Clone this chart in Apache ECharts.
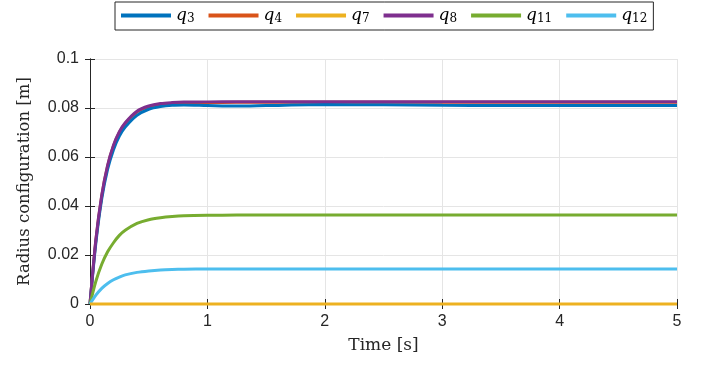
<!DOCTYPE html>
<html>
<head>
<meta charset="utf-8">
<script src="https://cdn.jsdelivr.net/npm/echarts@6/dist/echarts.min.js"></script>
<style>
  html, body { margin: 0; padding: 0; background: #fff; }
  #main { width: 707px; height: 369px; }
</style>
</head>
<body>
<div id="main"></div>
<script>
// time samples [s]
var timeData = [0, 0.05, 0.1, 0.15, 0.2, 0.25, 0.3, 0.4, 0.5, 0.6, 0.7, 0.8, 1.0, 1.25, 1.5, 2, 2.5, 3, 3.5, 4, 4.5, 5];

// radius configuration [m]
var q3 = [0, 0.0250, 0.0430, 0.0550, 0.0630, 0.0685, 0.0722, 0.0770, 0.0795, 0.0806, 0.0811, 0.0812, 0.0810, 0.0808, 0.0810, 0.0814, 0.0813, 0.0811, 0.0810, 0.0810, 0.0810, 0.0810];
var q4 = [0, 0.0260, 0.0441, 0.0563, 0.0645, 0.0700, 0.0737, 0.0784, 0.0805, 0.0815, 0.0819, 0.0821, 0.0822, 0.0823, 0.0823, 0.0823, 0.0823, 0.0823, 0.0823, 0.0823, 0.0823, 0.0823];
var q7 = [0, 0, 0, 0, 0, 0, 0, 0, 0, 0, 0, 0, 0, 0, 0, 0, 0, 0, 0, 0, 0, 0];
var q8 = [0, 0.0263, 0.0444, 0.0566, 0.0648, 0.0703, 0.0740, 0.0787, 0.0808, 0.0818, 0.0822, 0.0824, 0.0825, 0.0826, 0.0826, 0.0826, 0.0826, 0.0826, 0.0826, 0.0826, 0.0826, 0.0826];
var q11 = [0, 0.0093, 0.0162, 0.0213, 0.0250, 0.0280, 0.0301, 0.0329, 0.0344, 0.0352, 0.0357, 0.0360, 0.0362, 0.0363, 0.0363, 0.0363, 0.0363, 0.0363, 0.0363, 0.0363, 0.0363, 0.0363];
var q12 = [0, 0.0036, 0.0064, 0.0084, 0.0099, 0.0110, 0.0119, 0.0129, 0.0135, 0.0139, 0.0141, 0.0142, 0.0143, 0.0143, 0.0143, 0.0143, 0.0143, 0.0143, 0.0143, 0.0143, 0.0143, 0.0143];

var names = ['q3', 'q4', 'q7', 'q8', 'q11', 'q12'];
var colors = ['#0072BD', '#D95319', '#EDB120', '#7E2F8E', '#77AC30', '#4DBEEE'];
var values = [q3, q4, q7, q8, q11, q12];
// draw order: q4 under q8, q7 on top of the bottom axis
var drawOrder = [1, 0, 3, 4, 5, 2];

var chart = echarts.init(document.getElementById('main'));

function pairs(arr) {
    var out = [];
    for (var i = 0; i < timeData.length; i++) {
        out.push([timeData[i], arr[i]]);
    }
    return out;
}

var series = [];
drawOrder.forEach(function (k) {
    series.push({
        name: names[k],
        type: 'line',
        data: pairs(values[k]),
        smooth: 0.3,
        showSymbol: false,
        symbol: 'none',
        clip: false,
        lineStyle: { width: 3, color: colors[k] },
        itemStyle: { color: colors[k] },
        z: 2 + drawOrder.indexOf(k)
    });
});

var axisLine = { show: true, lineStyle: { color: '#262626', width: 1 } };
var tickStyle = { show: true, inside: true, length: 5, lineStyle: { color: '#262626' } };

var option = {
    animation: false,
    color: colors,
    legend: {
        data: names,
        left: 115,
        top: 2,
        icon: 'rect',
        itemWidth: 50,
        itemHeight: 4,
        itemGap: 14,
        padding: [5, 6, 5, 6],
        borderColor: '#262626',
        borderWidth: 1,
        formatter: function (name) {
            return '{q|q}{s|' + name.slice(1) + '}';
        },
        textStyle: {
            rich: {
                q: { fontFamily: 'DejaVu Serif', fontStyle: 'italic', fontSize: 17, color: '#000' },
                s: { fontFamily: 'DejaVu Serif', fontSize: 12, color: '#000', padding: [7, 0, 0, 0] }
            }
        }
    },
    grid: { left: 90, right: 30, top: 59, bottom: 65 },
    xAxis: [{
        type: 'value',
        min: 0, max: 5, interval: 1,
        name: 'Time [s]',
        nameLocation: 'middle',
        nameGap: 33,
        nameTextStyle: { fontFamily: 'DejaVu Serif', fontSize: 17, color: '#262626' },
        axisLine: axisLine,
        axisTick: tickStyle,
        axisLabel: { fontFamily: 'Liberation Sans', fontSize: 16, color: '#262626', margin: 10 },
        splitLine: { show: true, lineStyle: { color: '#e5e5e5' } }
    }, {
        type: 'value',
        position: 'top',
        min: 0, max: 5, interval: 1,
        axisLine: axisLine,
        axisTick: tickStyle,
        axisLabel: { show: false },
        splitLine: { show: false }
    }],
    yAxis: [{
        type: 'value',
        min: 0, max: 0.1, interval: 0.02,
        name: 'Radius configuration [m]',
        nameLocation: 'middle',
        nameGap: 57,
        nameTextStyle: { fontFamily: 'DejaVu Serif', fontSize: 16.5, color: '#262626' },
        axisLine: axisLine,
        axisTick: tickStyle,
        axisLabel: { fontFamily: 'Liberation Sans', fontSize: 16, color: '#262626', margin: 11 },
        splitLine: { show: true, lineStyle: { color: '#e5e5e5' } }
    }, {
        type: 'value',
        position: 'right',
        min: 0, max: 0.1, interval: 0.02,
        axisLine: axisLine,
        axisTick: tickStyle,
        axisLabel: { show: false },
        splitLine: { show: false }
    }],
    series: series
};

chart.setOption(option);
</script>
</body>
</html>
